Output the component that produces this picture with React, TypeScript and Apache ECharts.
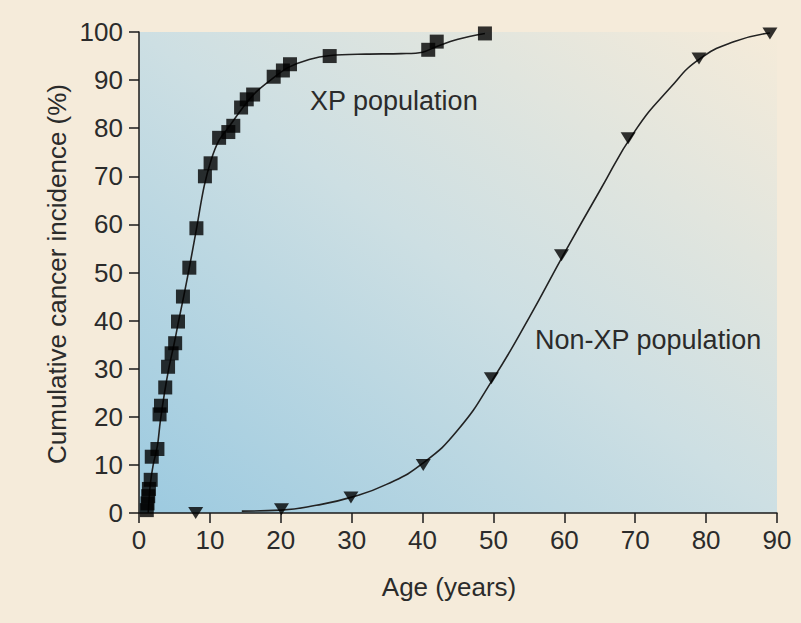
import React, { useEffect, useRef } from "react";
import * as echarts from "echarts";

// XP population observations (age in years, cumulative incidence %)
const xpPoints: number[][] = [
  [1.1, 0.6], [1.2, 2], [1.3, 3.5], [1.4, 5], [1.65, 6.9], [1.8, 11.7],
  [2.6, 13.3], [2.9, 20.5], [3.1, 22.3], [3.7, 26.1], [4.1, 30.4],
  [4.6, 33.2], [5.1, 35.3], [5.5, 39.8], [6.2, 45], [7.1, 51], [8.1, 59.2],
  [9.3, 70], [10.1, 72.7], [11.3, 78], [12.6, 79.2], [13.3, 80.5],
  [14.4, 84.3], [15.2, 86], [16.1, 87], [19, 90.7], [20.3, 92], [21.3, 93.3],
  [26.9, 95], [40.8, 96.3], [42, 98], [48.8, 99.7],
];

// XP fitted curve
const xpCurve: number[][] = [
  [1.3, 0], [1.6, 6], [2.0, 10], [2.6, 14], [3.0, 19], [3.6, 25], [4.2, 30],
  [5, 35.5], [5.6, 40], [6.3, 45], [7.1, 51], [8.1, 59], [9.2, 68],
  [10.2, 73.5], [11.3, 77.5], [12.8, 80.5], [14.5, 84], [16.5, 87.5],
  [19, 90.5], [21, 92.6], [24, 94.3], [27, 95.1], [32, 95.4], [37, 95.5],
  [40, 95.8], [42, 97], [45, 98.5], [48.8, 99.7],
];

// Non-XP population observations
const nonXpPoints: number[][] = [
  [8, 0], [20.1, 0.8], [29.9, 3.2], [40.1, 10], [49.7, 28], [59.6, 53.6],
  [69, 77.9], [79, 94.5], [89, 99.7],
];

// Non-XP fitted curve
const nonXpCurve: number[][] = [
  [14.5, 0.4], [20, 0.6], [25, 1.6], [30, 3.3], [35, 6], [40, 10.3],
  [45, 17.3], [50, 28], [55, 40.5], [60, 54], [65, 67], [70, 79.5],
  [75, 88.5], [79, 94.3], [84, 98], [89, 99.8],
];

const xTitle = "Age (years)";
const yTitle = "Cumulative cancer incidence (%)";
const xpLabel = "XP population";
const nonXpLabel = "Non-XP population";

const FONT = "'Liberation Sans', Arial, Helvetica, sans-serif";
const TEXT = "#2b2b2b";

export default function App() {
  const ref = useRef<HTMLDivElement>(null);

  useEffect(() => {
    document.body.style.margin = "0";
    if (!ref.current) return;
    const chart = echarts.init(ref.current, undefined, { renderer: "svg" });
    chart.setOption({
      animation: false,
      backgroundColor: "#f5ebda",
      grid: {
        left: 139,
        top: 32,
        right: 24,
        bottom: 110,
        show: true,
        borderWidth: 0,
        backgroundColor: new echarts.graphic.LinearGradient(0, 1, 1, 0, [
          { offset: 0, color: "#9ccae0" },
          { offset: 0.5, color: "#cddfe3" },
          { offset: 1, color: "#f5ebd9" },
        ]),
      },
      xAxis: {
        type: "value",
        min: 0,
        max: 90,
        interval: 10,
        splitLine: { show: false },
        axisLine: { show: true, onZero: false, lineStyle: { color: "#1a1a1a", width: 1.5 } },
        axisTick: { show: true, inside: false, length: 10, lineStyle: { color: "#1a1a1a", width: 1.5 } },
        axisLabel: { color: TEXT, fontSize: 26, fontFamily: FONT, margin: 14 },
      },
      yAxis: {
        type: "value",
        min: 0,
        max: 100,
        interval: 10,
        splitLine: { show: false },
        axisLine: { show: true, onZero: false, lineStyle: { color: "#1a1a1a", width: 1.5 } },
        axisTick: { show: true, inside: false, length: 10, lineStyle: { color: "#1a1a1a", width: 1.5 } },
        axisLabel: { color: TEXT, fontSize: 26, fontFamily: FONT, margin: 16 },
      },
      graphic: [
        {
          type: "text",
          x: 449,
          y: 587,
          style: { text: xTitle, fill: TEXT, font: `26px ${FONT}`, align: "center", verticalAlign: "middle" },
        },
        {
          type: "text",
          x: 57,
          y: 274,
          rotation: Math.PI / 2,
          style: { text: yTitle, fill: TEXT, font: `26px ${FONT}`, align: "center", verticalAlign: "middle" },
        },
        {
          type: "text",
          x: 310,
          y: 101,
          z: 10,
          style: { text: xpLabel, fill: TEXT, font: `27px ${FONT}`, align: "left", verticalAlign: "middle" },
        },
        {
          type: "text",
          x: 535,
          y: 340,
          z: 10,
          style: { text: nonXpLabel, fill: TEXT, font: `27px ${FONT}`, align: "left", verticalAlign: "middle" },
        },
      ],
      series: [
        {
          type: "line",
          data: xpCurve,
          smooth: 0.35,
          showSymbol: false,
          symbol: "none",
          lineStyle: { color: "#222", width: 1.6 },
          z: 2,
        },
        {
          type: "line",
          data: nonXpCurve,
          smooth: 0.5,
          showSymbol: false,
          symbol: "none",
          lineStyle: { color: "#222", width: 1.6 },
          z: 2,
        },
        {
          type: "scatter",
          data: xpPoints,
          symbol: "rect",
          symbolSize: 14,
          itemStyle: { color: "#000" },
          clip: false,
          z: 3,
        },
        {
          type: "scatter",
          data: nonXpPoints,
          symbol: "triangle",
          symbolRotate: 180,
          symbolSize: [15, 12],
          itemStyle: { color: "#000" },
          clip: false,
          z: 3,
        },
      ],
    });
    return () => chart.dispose();
  }, []);

  return <div ref={ref} style={{ width: 801, height: 623 }} />;
}
